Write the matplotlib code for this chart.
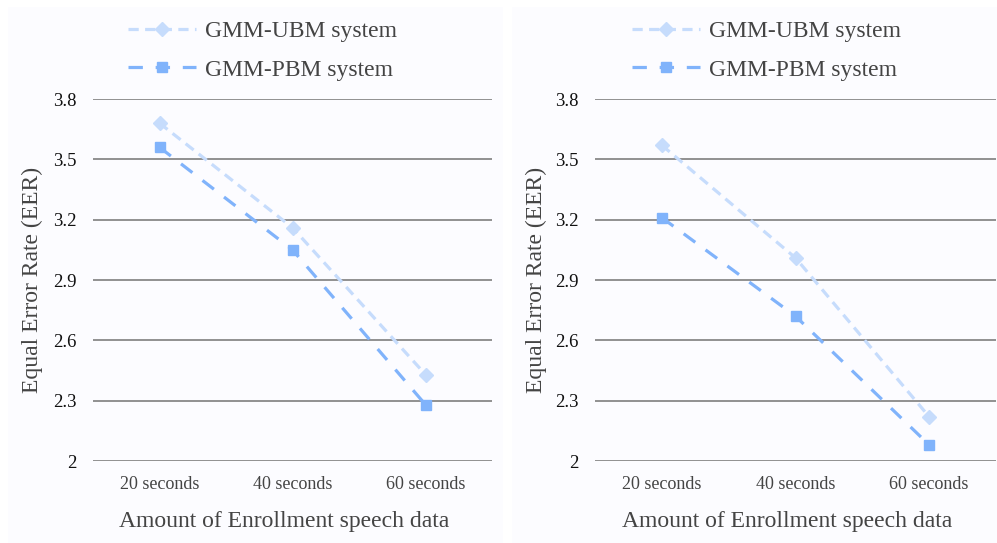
import matplotlib
matplotlib.use('Agg')
import matplotlib.pyplot as plt
from matplotlib.patches import Rectangle

# data
categories = ['20 seconds', '40 seconds', '60 seconds']
ubm_left = [3.68, 3.16, 2.43]
pbm_left = [3.56, 3.05, 2.28]
ubm_right = [3.57, 3.01, 2.22]
pbm_right = [3.21, 2.72, 2.08]
yticks = [2, 2.3, 2.6, 2.9, 3.2, 3.5, 3.8]
ytick_labels = ['2', '2.3', '2.6', '2.9', '3.2', '3.5', '3.8']

plt.rcParams['font.family'] = ['Liberation Serif', 'DejaVu Serif']

ubm_color = '#c6dcfc'
pbm_color = '#80b3fb'
grid_color = '#888888'

fig = plt.figure(figsize=(9.97, 5.43), dpi=100)
fig.patch.set_facecolor('white')

# light panel backgrounds
fig.patches.append(Rectangle((8/997, 0), 495/997, 536/543, transform=fig.transFigure,
                             facecolor='#fcfcff', edgecolor='none', zorder=-5))
fig.patches.append(Rectangle((512/997, 0), 485/997, 536/543, transform=fig.transFigure,
                             facecolor='#fcfcff', edgecolor='none', zorder=-5))


def draw_panel(rect, ubm, pbm, legend_x, ylabel_x):
    ax = fig.add_axes(rect)
    ax.set_facecolor('none')
    x = range(len(categories))
    ax.plot(x, ubm, color=ubm_color, linewidth=2.3, dashes=(3.2, 2.0),
            marker='D', markersize=7.5, label='GMM-UBM system', zorder=3)
    ax.plot(x, pbm, color=pbm_color, linewidth=2.3, dashes=(4.5, 4.0),
            marker='s', markersize=7, label='GMM-PBM system', zorder=4)
    ax.set_xlim(-0.5, len(categories) - 0.5)
    ax.set_ylim(2, 3.8)
    ax.set_yticks(yticks)
    ax.set_yticklabels(ytick_labels)
    ax.set_xticks(list(x))
    ax.set_xticklabels(categories)
    for s in ax.spines.values():
        s.set_visible(False)
    ax.yaxis.grid(True, color=grid_color, linewidth=1.3)
    ax.set_axisbelow(True)
    ax.tick_params(axis='y', length=0, pad=12, labelsize=13.5, labelcolor='#111111')
    ax.tick_params(axis='x', length=0, pad=11, labelsize=13, labelcolor='#444444')
    ax.set_xlabel('Amount of Enrollment speech data', fontsize=17, color='#444444')
    ax.xaxis.set_label_coords(0.48, -0.166)
    ax.xaxis.label.set_va('center')
    ax.set_ylabel('Equal Error Rate (EER)', fontsize=17, color='#444444')
    ax.yaxis.set_label_coords(ylabel_x, 0.5)
    ax.yaxis.label.set_va('center')
    ax.legend(loc='center left', bbox_to_anchor=(legend_x, 1 - 50.5/543),
              bbox_transform=fig.transFigure, frameon=False, fontsize=17,
              handlelength=2.9, handletextpad=0.35, labelspacing=0.72,
              borderpad=0, borderaxespad=0, numpoints=1, labelcolor='#444444')
    return ax


bottom = 1 - 461/543
height = 362/543
draw_panel([93/997, bottom, 399/997, height], ubm_left, pbm_left, 128/997, -0.153)
draw_panel([595/997, bottom, 401/997, height], ubm_right, pbm_right, 632/997, -0.145)

fig.savefig('out.png', dpi=100, facecolor=fig.get_facecolor())
